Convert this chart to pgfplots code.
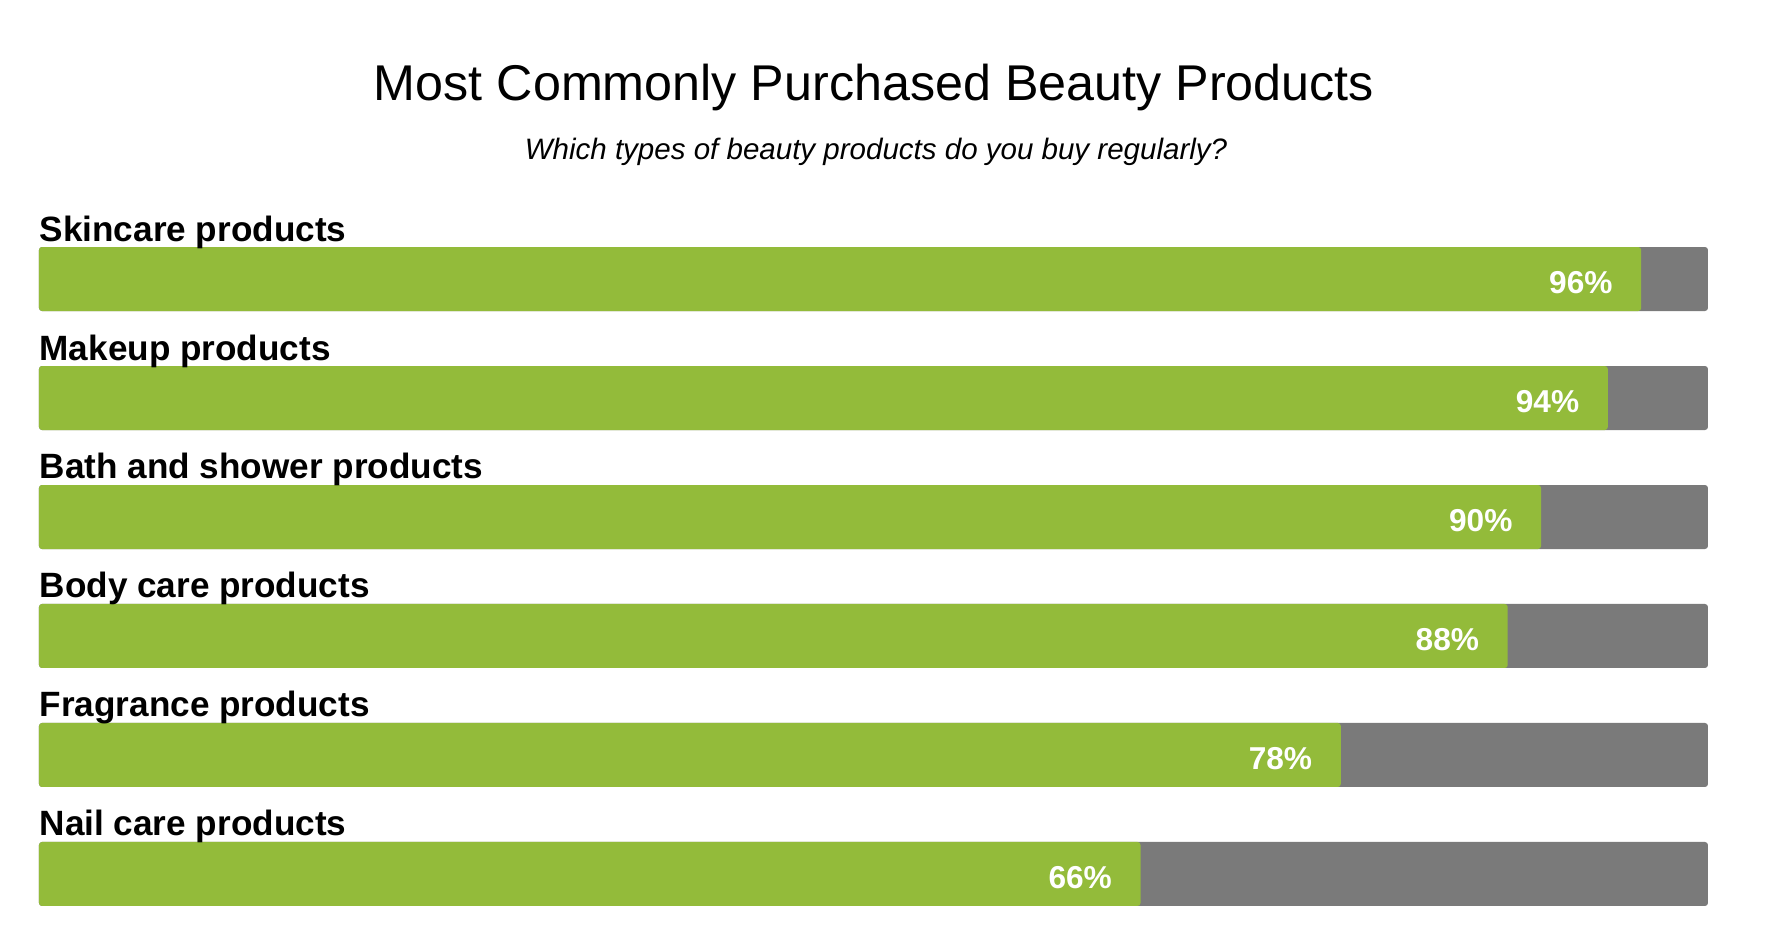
\documentclass[border=0pt]{standalone}
\usepackage{pgfplots}
\pgfplotsset{compat=1.18}
\usepackage{fontspec}
\setmainfont{Liberation Sans}
\definecolor{barGreen}{RGB}{147,187,58}
\definecolor{barGrey}{RGB}{122,122,122}
\begin{document}
\begin{tikzpicture}[x=0.1mm,y=-0.1mm]
\useasboundingbox (0,0) rectangle (1784,928);
\node[font=\fontsize{14.3}{16}\selectfont, anchor=base, inner sep=0] at (874,100) {Most Commonly Purchased Beauty Products};
\node[font=\fontsize{8.4}{10}\selectfont\itshape, anchor=base, inner sep=0] at (876,159) {Which types of beauty products do you buy regularly?};
\begin{axis}[
  at={(3.9mm,-21.95mm)}, anchor=north west,
  scale only axis, width=166.9mm, height=71.4mm,
  xmin=0, xmax=100, ymin=-0.5, ymax=5.5, y dir=reverse,
  hide axis, xbar, bar width=6.4mm, bar shift=0pt, clip=false,
  /pgf/number format/assume math mode=true,
]
\addplot[fill=barGrey, draw=none, rounded corners=0.3mm] coordinates {(100,0) (100,1) (100,2) (100,3) (100,4) (100,5)};
\addplot[fill=barGreen, draw=none, rounded corners=0.3mm,
  point meta=x,
  nodes near coords={\pgfmathprintnumber{\pgfplotspointmeta}\%},
  nodes near coords style={anchor=east, xshift=-2.8mm, yshift=-0.35mm, text=white, font=\bfseries\fontsize{9}{10}\selectfont, inner sep=0},
] coordinates {(96,0) (94,1) (90,2) (88,3) (78,4) (66,5)};
\foreach \lab [count=\i from 0] in {Skincare products, Makeup products, Bath and shower products, Body care products, Fragrance products, Nail care products} {
  \edef\temp{\noexpand\node[anchor=base west, inner sep=0, yshift=3.8mm, font=\noexpand\bfseries\noexpand\fontsize{10}{12}\noexpand\selectfont] at (axis cs:0,\i) {\lab};}
  \temp
}
\end{axis}
\end{tikzpicture}
\end{document}
